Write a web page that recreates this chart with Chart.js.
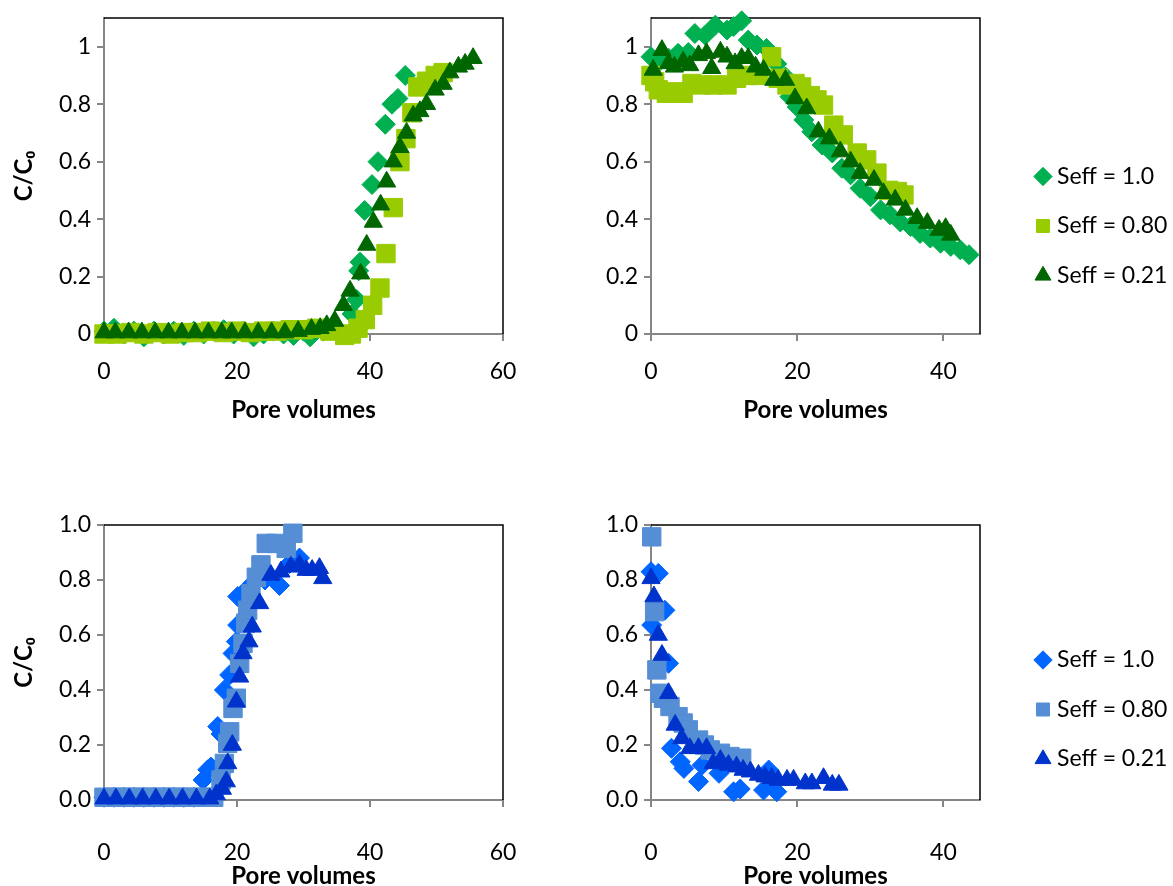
<!DOCTYPE html>
<html>
<head>
<meta charset="utf-8">
<script src="https://cdn.jsdelivr.net/npm/chart.js@4.4.1/dist/chart.umd.min.js"></script>
<style>
  html, body { margin: 0; padding: 0; background: #fff; overflow: hidden; }
  body { width: 1173px; height: 886px; position: relative; }
  canvas { position: absolute; }
</style>
</head>
<body>
<canvas id="breakGreen" width="520" height="448" style="left:0;top:0"></canvas>
<canvas id="elutionGreen" width="966" height="448" style="left:209px;top:0"></canvas>
<canvas id="breakBlue" width="520" height="404" style="left:0;top:490px"></canvas>
<canvas id="elutionBlue" width="966" height="404" style="left:209px;top:490px"></canvas>
<script>
// legend labels, same for every panel
const seriesNames = ["Seff = 1.0", "Seff = 0.80", "Seff = 0.21"];

// tick values
const xTicksLong = [0, 20, 40, 60];
const xTicksShort = [0, 20, 40];
const yTicks = [0, 0.2, 0.4, 0.6, 0.8, 1.0];

// breakthrough, green set (pore volumes / C/C0)
const bgDiamondX = [0, 1.5, 3, 4.5, 6, 7.5, 9, 10.5, 12, 13.5, 15, 16.5, 18, 19.5, 21, 22.5, 24, 25.5, 27, 28.5, 30, 31, 33, 35, 37.3, 38, 38.3, 38.5, 39.2, 40.3, 41.2, 42.3, 43.3, 44.2, 45.3];
const bgDiamondY = [0.01, 0.02, 0, 0.01, -0.01, 0.01, 0, 0.01, -0.005, 0.01, 0, 0.01, 0.015, 0, 0.01, -0.01, 0, 0.01, 0, -0.005, 0.01, -0.01, 0.01, 0.01, 0.07, 0.12, 0.22, 0.25, 0.43, 0.52, 0.60, 0.73, 0.80, 0.82, 0.90];
const bgSquareX = [0, 2, 4, 6, 8, 10, 12, 14, 16, 18, 20, 22, 24, 26, 28, 30, 32, 34, 36.2, 37.2, 38.2, 39.3, 40.4, 41.5, 42.4, 43.5, 44.5, 45.4, 46.3, 47.2, 48.5, 49.8, 51];
const bgSquareY = [0, 0, 0.005, 0, 0.005, 0, 0.005, 0.005, 0.01, 0.005, 0.01, 0.005, 0.01, 0.01, 0.015, 0.015, 0.02, 0.01, -0.005, 0, 0.02, 0.05, 0.10, 0.16, 0.28, 0.44, 0.60, 0.68, 0.77, 0.86, 0.88, 0.90, 0.91];
const bgTriangleX = [0, 1.7, 3.7, 5.7, 7.7, 9.7, 11.7, 13.7, 15.7, 17.7, 19.2, 21.2, 23.2, 25.2, 27.2, 29.2, 31.2, 32.5, 33.5, 34.7, 36, 37, 38.6, 39.5, 40.5, 41.6, 42.5, 43.5, 44.5, 45.5, 46.5, 47.5, 48.5, 49.8, 51, 52, 53.3, 54.3, 55.5];
const bgTriangleY = [0.005, 0.005, 0.005, 0.005, 0.005, 0.005, 0.005, 0.005, 0.005, 0.005, 0.005, 0.005, 0.005, 0.005, 0.005, 0.01, 0.017, 0.02, 0.03, 0.045, 0.10, 0.15, 0.21, 0.31, 0.39, 0.45, 0.53, 0.60, 0.65, 0.70, 0.76, 0.775, 0.80, 0.85, 0.87, 0.91, 0.93, 0.94, 0.96];

// elution, green set
const egDiamondX = [0, 1.2, 2.4, 3.7, 5.1, 6, 7.4, 8.8, 10.4, 11.3, 12.4, 13.3, 14.5, 15.8, 17.2, 18.4, 19, 20, 20.9, 22, 23.4, 24.8, 26.1, 27.3, 28.6, 30, 31.4, 32.7, 34.1, 35.5, 36.8, 38.2, 39.6, 41, 42.3, 43.5];
const egDiamondY = [0.965, 0.95, 0.96, 0.977, 0.98, 1.046, 1.04, 1.075, 1.058, 1.07, 1.09, 1.023, 1.006, 0.994, 0.94, 0.895, 0.826, 0.79, 0.745, 0.704, 0.658, 0.63, 0.577, 0.554, 0.507, 0.478, 0.432, 0.415, 0.39, 0.374, 0.35, 0.334, 0.316, 0.305, 0.293, 0.276];
const egSquareX = [0, 0.5, 1, 2.1, 3.5, 4.4, 5.6, 6.9, 8.5, 10.4, 11.7, 13.1, 14.7, 16.5, 17.4, 18.6, 19.7, 20.6, 21.8, 22.7, 23.6, 25, 26.3, 28.2, 29.5, 30.9, 32.5, 33.7, 34.6];
const egSquareY = [0.90, 0.878, 0.85, 0.838, 0.843, 0.838, 0.872, 0.867, 0.867, 0.867, 0.89, 0.90, 0.90, 0.965, 0.89, 0.867, 0.872, 0.86, 0.83, 0.815, 0.797, 0.727, 0.693, 0.63, 0.606, 0.56, 0.50, 0.496, 0.484];
const egTriangleX = [0.3, 1.5, 2.4, 3.2, 4.4, 5.3, 6.5, 7.6, 8.3, 9.5, 10.4, 11.5, 12.4, 13.3, 14.3, 15.4, 16.8, 18.4, 19.7, 21.3, 22.9, 24.4, 25.9, 27.3, 28.6, 30.5, 31.8, 33.4, 34.8, 36.4, 37.8, 39.4, 40.3, 41];
const egTriangleY = [0.919, 0.988, 0.942, 0.93, 0.948, 0.935, 0.97, 0.977, 0.925, 0.982, 0.965, 0.942, 0.96, 0.96, 0.93, 0.919, 0.884, 0.884, 0.82, 0.785, 0.704, 0.68, 0.635, 0.60, 0.56, 0.536, 0.49, 0.467, 0.432, 0.403, 0.386, 0.362, 0.368, 0.345];

// breakthrough, blue set
const bbDiamondX = [0, 1.5, 3, 4.5, 6, 7.5, 9, 10.5, 12, 13.5, 14.9, 15.6, 16.1, 17.1, 17.6, 18.1, 18.9, 19.4, 19.9, 20.1, 20.1, 21.4, 22.5, 24.2, 26.4, 27.9, 29.4];
const bbDiamondY = [0.01, 0.01, 0.01, 0.01, 0.01, 0.01, 0.01, 0.01, 0.01, 0.01, 0.073, 0.11, 0.12, 0.267, 0.24, 0.40, 0.455, 0.533, 0.576, 0.636, 0.74, 0.764, 0.79, 0.80, 0.78, 0.86, 0.88];
const bbSquareX = [0, 1.5, 3, 4.5, 6, 7.5, 9, 10.5, 12, 13.5, 15, 16.5, 17.6, 18.1, 18.6, 18.9, 19.4, 19.9, 20.4, 20.9, 21.3, 21.6, 22.1, 22.9, 23.6, 24.4, 25.9, 27.4, 28.4];
const bbSquareY = [0.01, 0.01, 0.01, 0.01, 0.01, 0.01, 0.01, 0.01, 0.01, 0.01, 0.01, 0.01, 0.073, 0.133, 0.206, 0.248, 0.333, 0.37, 0.497, 0.57, 0.643, 0.69, 0.75, 0.81, 0.855, 0.933, 0.933, 0.915, 0.97];
const bbTriangleX = [0, 1.8, 3.8, 5.8, 7.8, 9.8, 11.8, 13.9, 15.9, 16.9, 17.8, 18.4, 18.6, 19.3, 19.9, 20.4, 20.9, 21.8, 22.3, 23.4, 25.1, 26.6, 28.1, 29.4, 30.4, 31.3, 32.4, 32.9];
const bbTriangleY = [0.005, 0.005, 0.005, 0.005, 0.005, 0.005, 0.005, 0.005, 0.005, 0.02, 0.04, 0.067, 0.133, 0.2, 0.357, 0.448, 0.533, 0.576, 0.63, 0.715, 0.818, 0.83, 0.848, 0.855, 0.836, 0.836, 0.843, 0.806];

// elution, blue set
const ebDiamondX = [0, 0.1, 1, 1.9, 2.4, 2.8, 4, 4.5, 6.5, 7, 9.3, 11.3, 12.2, 15.4, 16.1, 16.8, 17.2];
const ebDiamondY = [0.83, 0.636, 0.824, 0.69, 0.497, 0.188, 0.139, 0.115, 0.067, 0.127, 0.097, 0.03, 0.04, 0.036, 0.109, 0.06, 0.03];
const ebSquareX = [0.1, 0.5, 0.8, 1.2, 1.7, 2.6, 3.7, 4.4, 5.1, 6.5, 7.3, 8.1, 9.5, 10.8, 12.4];
const ebSquareY = [0.957, 0.685, 0.473, 0.388, 0.37, 0.34, 0.303, 0.28, 0.255, 0.218, 0.2, 0.182, 0.17, 0.158, 0.152];
const ebTriangleX = [0, 0.4, 1, 1.5, 2.4, 3.3, 4.2, 5.3, 6.5, 7.6, 8.5, 9.5, 10.6, 11.7, 12.6, 13.6, 14.7, 15.6, 16.5, 17.4, 18.6, 19.5, 21.1, 22, 23.6, 24.8, 25.7];
const ebTriangleY = [0.806, 0.74, 0.6, 0.527, 0.388, 0.273, 0.224, 0.188, 0.188, 0.188, 0.133, 0.145, 0.127, 0.121, 0.109, 0.103, 0.091, 0.085, 0.079, 0.073, 0.073, 0.073, 0.06, 0.06, 0.079, 0.055, 0.055];

const FONT = "Lato, 'Open Sans', sans-serif";
const AXIS_GRAY = "#868686";
const greens = ["#00B050", "#99CC00", "#006600"];
const blues = ["#0066FF", "#558ED5", "#0033CC"];
const markers = [
  { style: "rectRot", radius: 10 },
  { style: "rect", radius: 13 },
  { style: "triangle", radius: 10.5 }
];

function toPoints(xs, ys) {
  return xs.map((x, i) => ({ x: x, y: ys[i] }));
}

// black top and right edges of the plot frame
const frameLines = {
  id: "frameLines",
  beforeDatasetsDraw(chart) {
    const a = chart.chartArea;
    const ctx = chart.ctx;
    ctx.save();
    ctx.strokeStyle = "#000";
    ctx.lineWidth = 1.5;
    ctx.beginPath();
    ctx.moveTo(a.left, a.top);
    ctx.lineTo(a.right, a.top);
    ctx.lineTo(a.right, a.bottom);
    ctx.stroke();
    ctx.restore();
  }
};

function drawPanel(id, series, colors, o) {
  const datasets = series.map((pts, i) => ({
    label: seriesNames[i],
    data: pts,
    pointStyle: markers[i].style,
    pointRadius: markers[i].radius,
    pointHoverRadius: markers[i].radius,
    backgroundColor: colors[i],
    borderColor: colors[i],
    borderWidth: 1,
    order: 2 - i,
    clip: false
  }));

  const scales = {
    x: {
      type: "linear",
      position: "bottom",
      min: 0,
      max: o.xMax,
      afterBuildTicks: (s) => { s.ticks = o.xTicks.map((v) => ({ value: v })); },
      afterFit: (s) => { s.height = o.xHeight; s.paddingLeft = 0; s.paddingRight = 0; },
      border: { color: AXIS_GRAY, width: 2 },
      grid: { drawOnChartArea: false, tickLength: 7, color: AXIS_GRAY, lineWidth: 2 },
      ticks: { padding: o.xTickPad, color: "#000", font: { family: FONT, size: 23 }, maxRotation: 0, callback: (v) => String(v) },
      title: {
        display: true,
        text: "Pore volumes",
        color: "#000",
        font: { family: FONT, size: 24, weight: "bold", lineHeight: 1 },
        padding: { top: 0, bottom: o.xTitlePad }
      }
    },
    y: {
      type: "linear",
      position: "left",
      min: 0,
      max: o.yMax,
      afterBuildTicks: (s) => { s.ticks = yTicks.map((v) => ({ value: v })); },
      afterFit: (s) => { s.width = o.yWidth; s.paddingTop = 0; s.paddingBottom = 0; },
      border: { color: AXIS_GRAY, width: 2 },
      grid: { drawOnChartArea: false, tickLength: 7, color: AXIS_GRAY, lineWidth: 2 },
      ticks: { padding: 6, color: "#000", font: { family: FONT, size: 23 }, callback: o.yFormat },
      title: {
        display: o.yTitle,
        text: "C/C₀",
        color: "#000",
        font: { family: FONT, size: 24, weight: "bold", lineHeight: 1 },
        padding: { top: 12, bottom: 0 }
      }
    }
  };

  if (o.legend) {
    // empty strip between the frame and the legend
    scales.gap = {
      type: "linear",
      position: "right",
      display: true,
      grid: { display: false },
      border: { display: false },
      ticks: { display: false },
      afterFit: (s) => { s.width = o.gap; }
    };
  }

  return new Chart(document.getElementById(id), {
    type: "scatter",
    data: { datasets: datasets },
    options: {
      responsive: false,
      animation: false,
      layout: { padding: { left: 0, top: o.padTop, right: o.padRight, bottom: o.padBottom } },
      plugins: {
        tooltip: { enabled: false },
        legend: {
          display: o.legend,
          position: "right",
          align: "center",
          labels: {
            usePointStyle: true,
            boxWidth: 5,
            boxHeight: 13,
            padding: 26.5,
            color: "#000",
            font: { family: FONT, size: 23 },
            sort: (a, b) => a.datasetIndex - b.datasetIndex
          }
        }
      },
      scales: scales
    },
    plugins: [frameLines]
  });
}

const topFmt = (v) => String(v);
const bottomFmt = (v) => v.toFixed(1);

drawPanel("breakGreen", [
  toPoints(bgDiamondX, bgDiamondY),
  toPoints(bgSquareX, bgSquareY),
  toPoints(bgTriangleX, bgTriangleY)
], greens, {
  xMax: 60, xTicks: xTicksLong, yMax: 1.1, yFormat: topFmt, yTitle: true,
  yWidth: 104, xHeight: 100, xTickPad: 17, xTitlePad: 12, padTop: 18, padBottom: 14, padRight: 17, legend: false
});

drawPanel("elutionGreen", [
  toPoints(egDiamondX, egDiamondY),
  toPoints(egSquareX, egSquareY),
  toPoints(egTriangleX, egTriangleY)
], greens, {
  xMax: 45, xTicks: xTicksShort, yMax: 1.1, yFormat: topFmt, yTitle: false,
  yWidth: 442, xHeight: 100, xTickPad: 17, xTitlePad: 12, padTop: 18, padBottom: 14, padRight: 0, legend: true, gap: 34
});

drawPanel("breakBlue", [
  toPoints(bbDiamondX, bbDiamondY),
  toPoints(bbSquareX, bbSquareY),
  toPoints(bbTriangleX, bbTriangleY)
], blues, {
  xMax: 60, xTicks: xTicksLong, yMax: 1.0, yFormat: bottomFmt, yTitle: true,
  yWidth: 104, xHeight: 94, xTickPad: 32, xTitlePad: 6, padTop: 35, padBottom: 0, padRight: 17, legend: false
});

drawPanel("elutionBlue", [
  toPoints(ebDiamondX, ebDiamondY),
  toPoints(ebSquareX, ebSquareY),
  toPoints(ebTriangleX, ebTriangleY)
], blues, {
  xMax: 45, xTicks: xTicksShort, yMax: 1.0, yFormat: bottomFmt, yTitle: false,
  yWidth: 442, xHeight: 94, xTickPad: 32, xTitlePad: 6, padTop: 35, padBottom: 0, padRight: 0, legend: true, gap: 34
});
</script>
</body>
</html>
